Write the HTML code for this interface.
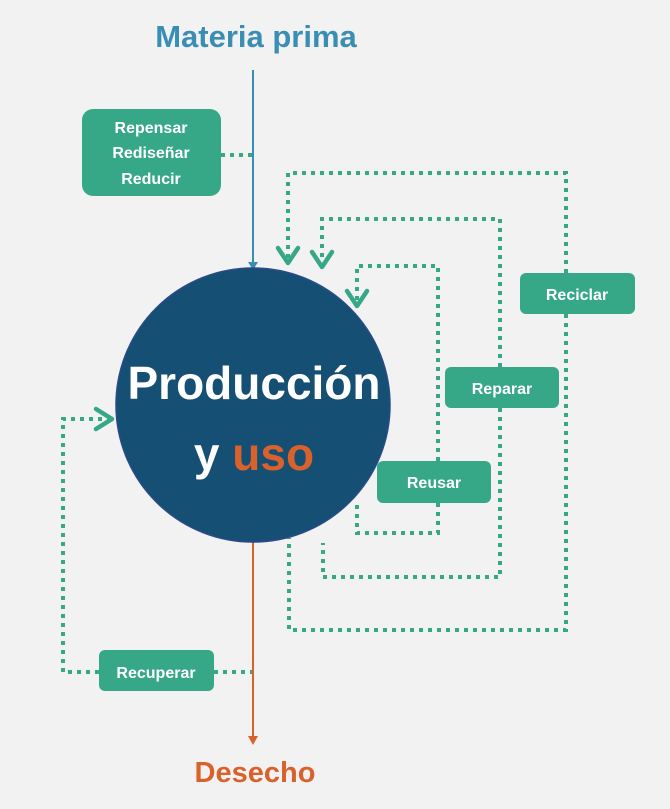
<!DOCTYPE html>
<html><head><meta charset="utf-8"><style>
html,body{margin:0;padding:0;background:#f2f2f2;}
svg{display:block;font-family:"Liberation Sans",sans-serif;}
</style></head><body>
<svg width="670" height="809" viewBox="0 0 670 809" xmlns="http://www.w3.org/2000/svg">
<rect width="670" height="809" fill="#f2f2f2"/>
<text x="256" y="47" text-anchor="middle" font-size="31" font-weight="bold" fill="#3a8db3">Materia prima</text>
<text x="255" y="782" text-anchor="middle" font-size="29" font-weight="bold" fill="#d9612c">Desecho</text>
<g stroke="#36a887" stroke-width="4" stroke-dasharray="4 5" fill="none">
<polyline points="221,155 253,155"/>
<polyline points="566,273 566,173 288,173 288,258"/>
<polyline points="566,314 566,630 289,630 289,538"/>
<polyline points="500,367 500,219 322,219 322,262"/>
<polyline points="500,408 500,577 323,577 323,543"/>
<polyline points="438,461 438,266 357,266 357,300"/>
<polyline points="438,503 438,533 357,533 357,505"/>
<polyline points="99,672 63,672 63,419 108,419"/>
<polyline points="214,672 253,672"/>
</g>
<g stroke="#36a887" stroke-width="4.5" fill="none" stroke-linecap="round" stroke-linejoin="round">
<polyline points="278,248 288,263 298,248"/>
<polyline points="312,252 322,267 332,252"/>
<polyline points="347,291 357,306 367,291"/>
<polyline points="96,409 112,419 96,429"/>
</g>
<line x1="253" y1="70" x2="253" y2="264" stroke="#3a8db3" stroke-width="2"/>
<polygon points="248,262 258,262 253,270" fill="#3a8db3"/>
<line x1="253" y1="540" x2="253" y2="738" stroke="#d9612c" stroke-width="2"/>
<polygon points="248,736 258,736 253,745" fill="#d9612c"/>
<circle cx="253" cy="405" r="137" fill="#154f74" stroke="#2a4a8a" stroke-width="1.5"/>
<text x="254" y="399" text-anchor="middle" font-size="46" font-weight="bold" fill="#fff">Producción</text>
<text x="254" y="470" text-anchor="middle" font-size="46" font-weight="bold" fill="#fff">y <tspan fill="#d9612c">uso</tspan></text>
<g fill="#36a887">
<rect x="82" y="109" width="139" height="87" rx="11"/>
<rect x="520" y="273" width="115" height="41" rx="6"/>
<rect x="445" y="367" width="114" height="41" rx="6"/>
<rect x="377" y="461" width="114" height="42" rx="6"/>
<rect x="99" y="650" width="115" height="41" rx="6"/>
</g>
<g fill="#fff" font-size="16" font-weight="bold" text-anchor="middle">
<text x="151" y="133">Repensar</text>
<text x="151" y="158">Rediseñar</text>
<text x="151" y="184">Reducir</text>
<text x="577" y="300">Reciclar</text>
<text x="502" y="394">Reparar</text>
<text x="434" y="488">Reusar</text>
<text x="156" y="678">Recuperar</text>
</g>
</svg>
</body></html>
